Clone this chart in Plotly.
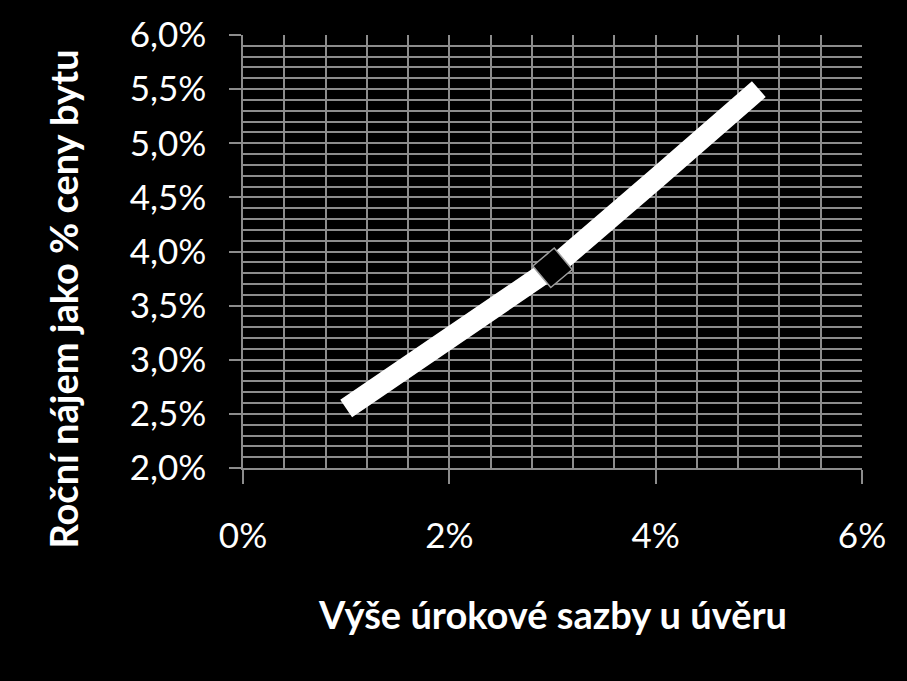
import plotly.graph_objects as go

# loan interest rate (%) vs annual rent as % of flat price
interest_rate = [1, 2, 3, 4, 5]
rent_share = [2.55, 3.2, 3.85, 4.67, 5.5]

# highlighted point
marker_x = [3]
marker_y = [3.85]

x_title = "Výše úrokové sazby u úvěru"
y_title = "Roční nájem jako % ceny bytu"

font_name = "Lato"
grid_col = "#8c8c8c"

fig = go.Figure()
fig.add_trace(go.Scatter(x=interest_rate, y=rent_share, mode="lines",
                         line=dict(color="white", width=21), showlegend=False))
fig.add_trace(go.Scatter(x=marker_x, y=marker_y, mode="markers",
                         marker=dict(symbol="square", size=28, angle=-40, color="black",
                                     line=dict(color="#a0a0a0", width=1.5)),
                         showlegend=False))

fig.update_xaxes(range=[0, 6], dtick=2, tickformat="d", ticksuffix="%",
                 showgrid=True, gridcolor=grid_col, gridwidth=1.5,
                 minor=dict(dtick=0.4, showgrid=True, gridcolor=grid_col, gridwidth=1.5),
                 showline=True, linecolor=grid_col, linewidth=1.5,
                 ticks="outside", ticklen=14, tickcolor=grid_col, tickwidth=1.5,
                 ticklabelstandoff=22, zeroline=False,
                 tickfont=dict(family=font_name, size=35, color="white"))
fig.update_yaxes(range=[2, 6], dtick=0.5, tickformat=".1f", ticksuffix="%",
                 showgrid=True, gridcolor=grid_col, gridwidth=1.5,
                 minor=dict(dtick=0.1, showgrid=True, gridcolor=grid_col, gridwidth=1.5),
                 showline=True, linecolor=grid_col, linewidth=1.5,
                 ticks="outside", ticklen=12, tickcolor=grid_col, tickwidth=1.5,
                 ticklabelstandoff=16, zeroline=False,
                 tickfont=dict(family=font_name, size=35, color="white"))

fig.add_annotation(text="<b>" + x_title + "</b>", xref="paper", yref="paper",
                   x=0.5, y=-0.338, yanchor="middle", showarrow=False,
                   font=dict(family=font_name, size=38, color="white"))
fig.add_annotation(text="<b>" + y_title + "</b>", xref="paper", yref="paper",
                   x=-0.29, y=0.39, xanchor="center", yanchor="middle", textangle=-90,
                   showarrow=False, font=dict(family=font_name, size=38, color="white"))

fig.update_layout(width=907, height=681, paper_bgcolor="black", plot_bgcolor="black",
                  separators=", ", margin=dict(l=243, r=45, t=29, b=213))

# drop the page margin so the figure fills the window
fig.write_html("out.html", config={"displayModeBar": False},
               post_script="document.body.style.margin='0';document.body.style.background='black';")
